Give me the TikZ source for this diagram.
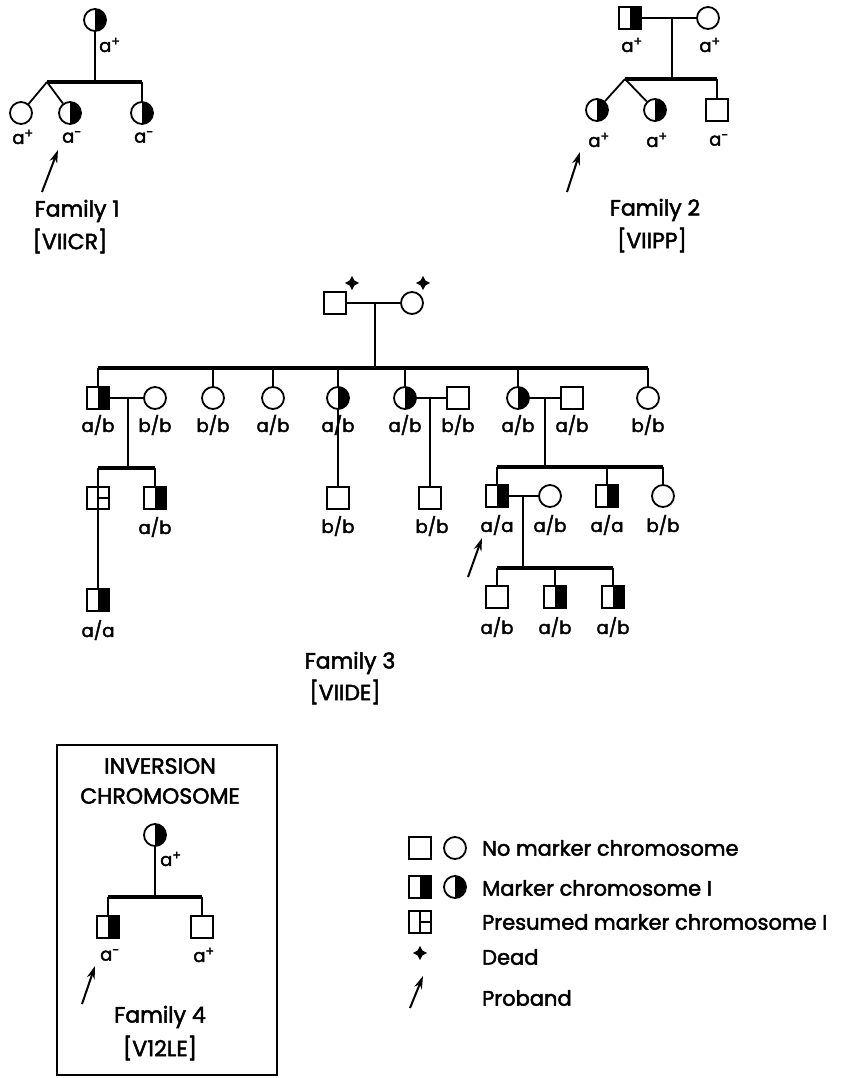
\documentclass[tikz,border=0pt]{standalone}
\usepackage{fontspec}
\setmainfont{Poppins}[FakeBold=2.2,UprightFeatures={FakeBold=2.2}]
\usepackage{tikz}
\usetikzlibrary{arrows.meta,positioning,shapes.geometric}
\newcommand{\pl}{\textsuperscript{+}}
\newcommand{\mi}{\textsuperscript{-}}

\begin{document}
\begin{tikzpicture}[x=1pt,y=-1pt,
  every node/.style={font=\fontsize{18}{21}\selectfont},
  male/.style={draw,rectangle,minimum size=22pt,inner sep=0pt,line width=1.8pt},
  female/.style={draw,circle,minimum size=22pt,inner sep=0pt,line width=1.8pt},
  half/.style={path picture={\fill (path picture bounding box.north) rectangle (path picture bounding box.south east);}},
  presumed/.style={male,path picture={
      \draw[line width=1.6pt] (path picture bounding box.north) -- (path picture bounding box.south);
      \draw[line width=1.6pt] (path picture bounding box.center) -- (path picture bounding box.east);}},
  dead/.style={star,star points=4,star point ratio=2,fill,inner sep=0pt,minimum size=14pt},
  lbl/.style={inner sep=0pt},
  title/.style={font=\fontsize{22}{26}\selectfont},
  keytext/.style={inner sep=0pt,anchor=west,font=\fontsize{21}{25}\selectfont},
  rel/.style={line width=1.8pt},
  sib/.style={line width=3.5pt},
  proband/.style={-{Stealth[length=13pt,width=8pt]},line width=2pt},
]
\useasboundingbox (0,0) rectangle (845,1078);

% ---------------- Family 1
\node[female,half] (f1m) at (95,20) {};
\node[lbl,anchor=west] (f1mL) at (99,45) {a\pl};
\coordinate (f1sl) at (47,82);
\coordinate (f1sm) at (95,82);
\coordinate (f1sr) at (142,82);
\node[female] (f1c1) at (21,113) {};
\node[female,half] (f1c2) at (70,113) {};
\node[female,half] (f1c3) at (142,113) {};
\node[lbl] (f1c1L) at (23,137) {a\pl};
\node[lbl] (f1c2L) at (72,137) {a\mi};
\node[lbl] (f1c3L) at (144,137) {a\mi};
\draw[rel] (f1m) -- (f1sm);
\draw[sib] (f1sl) -- (f1sr);
\draw[rel] (f1sl) -- (f1c1);
\draw[rel] (f1sl) -- (f1c2);
\draw[rel] (f1sr) -- (f1c3);
\coordinate (f1at) at (42,192);
\coordinate (f1ah) at (58,150);
\draw[proband] (f1at) -- (f1ah);
\node[title] (f1t) at (77,211) {Family 1};
\node[title] (f1id) at (70,241) {[VIICR]};

% ---------------- Family 2
\node[male,half] (f2f) at (630,18) {};
\node[female] (f2m) at (708,18) {};
\node[lbl] (f2fL) at (632,45) {a\pl};
\node[lbl] (f2mL) at (710,45) {a\pl};
\coordinate (f2mt) at (672,18);
\coordinate (f2sl) at (625,79);
\coordinate (f2sm) at (672,79);
\coordinate (f2sr) at (717,79);
\draw[rel] (f2f) -- (f2m);
\draw[rel] (f2mt) -- (f2sm);
\draw[sib] (f2sl) -- (f2sr);
\node[female,half] (f2c1) at (597,110) {};
\node[female,half] (f2c2) at (655,110) {};
\node[male] (f2c3) at (717,110) {};
\draw[rel] (f2sl) -- (f2c1);
\draw[rel] (f2sl) -- (f2c2);
\draw[rel] (f2sr) -- (f2c3);
\node[lbl] (f2c1L) at (599,140) {a\pl};
\node[lbl] (f2c2L) at (657,140) {a\pl};
\node[lbl] (f2c3L) at (719,140) {a\mi};
\coordinate (f2at) at (567,192);
\coordinate (f2ah) at (580,152);
\draw[proband] (f2at) -- (f2ah);
\node[title] (f2t) at (655,210) {Family 2};
\node[title] (f2id) at (652,240) {[VIIPP]};

% ---------------- Family 3
\node[male] (f3f) at (335,303) {};
\node[female] (f3m) at (412,303) {};
\node[dead] (f3fd) at (352,283) {};
\node[dead] (f3md) at (423,283) {};
\coordinate (f3mt) at (375,303);
\coordinate (f3sm) at (375,368);
\coordinate (f3sl) at (98,368);
\coordinate (f3sr) at (648,368);
\draw[rel] (f3f) -- (f3m);
\draw[rel] (f3mt) -- (f3sm);
\draw[sib] (f3sl) -- (f3sr);
% generation II
\node[male,half] (g2a) at (98,398) {};
\node[female] (g2aw) at (155,398) {};
\node[female] (g2b) at (213,398) {};
\node[female] (g2c) at (273,398) {};
\node[female,half] (g2d) at (338,398) {};
\node[female,half] (g2e) at (405,398) {};
\node[male] (g2eh) at (458,398) {};
\node[female,half] (g2f) at (518,398) {};
\node[male] (g2fh) at (572,398) {};
\node[female] (g2g) at (648,398) {};
\foreach \n in {g2a,g2b,g2c,g2d,g2e,g2f,g2g}
  \draw[rel] (\n |- f3sl) -- (\n.north);
\node[lbl] (g2aL) at (98,425) {a/b};
\node[lbl] (g2awL) at (155,425) {b/b};
\node[lbl] (g2bL) at (213,425) {b/b};
\node[lbl] (g2cL) at (273,425) {a/b};
\node[lbl] (g2dL) at (338,425) {a/b};
\node[lbl] (g2eL) at (405,425) {a/b};
\node[lbl] (g2ehL) at (458,425) {b/b};
\node[lbl] (g2fL) at (518,425) {a/b};
\node[lbl] (g2fhL) at (572,425) {a/b};
\node[lbl] (g2gL) at (648,425) {b/b};
\draw[rel] (g2a) -- (g2aw);
\draw[rel] (g2e) -- (g2eh);
\draw[rel] (g2f) -- (g2fh);
% generation III, left
\coordinate (g2amt) at (128,398);
\coordinate (g3sl) at (98,468);
\coordinate (g3sm) at (128,468);
\coordinate (g3sr) at (155,468);
\draw[rel] (g2amt) -- (g3sm);
\draw[sib] (g3sl) -- (g3sr);
\node[presumed] (g3a) at (98,498) {};
\node[male,half] (g3b) at (155,498) {};
\node[lbl] (g3bL) at (155,527) {a/b};
\draw[rel] (g3sl) -- (g3a);
\draw[rel] (g3sr) -- (g3b);
\node[male,half] (g4a) at (98,600) {};
\node[lbl] (g4aL) at (98,630) {a/a};
\draw[rel] (g3a) -- (g4a);
% generation III, middle
\node[male] (g3c) at (338,498) {};
\node[lbl] (g3cL) at (338,526) {b/b};
\draw[rel] (g2d) -- (g3c);
\coordinate (g2emt) at (430,398);
\node[male] (g3d) at (430,498) {};
\node[lbl] (g3dL) at (432,526) {b/b};
\draw[rel] (g2emt) -- (g3d);
% generation III, right
\coordinate (g2fmt) at (545,398);
\coordinate (g3tl) at (497,467);
\coordinate (g3tm) at (545,467);
\coordinate (g3tr) at (663,467);
\draw[rel] (g2fmt) -- (g3tm);
\draw[sib] (g3tl) -- (g3tr);
\node[male,half] (g3e) at (497,496) {};
\node[female] (g3ew) at (550,496) {};
\node[male,half] (g3f) at (607,496) {};
\node[female] (g3g) at (663,496) {};
\foreach \n in {g3e,g3f,g3g}
  \draw[rel] (\n |- g3tl) -- (\n.north);
\node[lbl] (g3eL) at (497,525) {a/a};
\node[lbl] (g3ewL) at (550,525) {a/b};
\node[lbl] (g3fL) at (607,525) {a/a};
\node[lbl] (g3gL) at (663,525) {b/b};
\draw[rel] (g3e) -- (g3ew);
% generation IV, right
\coordinate (g3emt) at (523,496);
\coordinate (g4sl) at (497,568);
\coordinate (g4sm) at (523,568);
\coordinate (g4sr) at (613,568);
\draw[rel] (g3emt) -- (g4sm);
\draw[sib] (g4sl) -- (g4sr);
\node[male] (g4b) at (497,597) {};
\node[male,half] (g4c) at (555,597) {};
\node[male,half] (g4d) at (613,597) {};
\foreach \n in {g4b,g4c,g4d}
  \draw[rel] (\n |- g4sl) -- (\n.north);
\node[lbl] (g4bL) at (497,627) {a/b};
\node[lbl] (g4cL) at (555,627) {a/b};
\node[lbl] (g4dL) at (613,627) {a/b};
\coordinate (f3at) at (468,577);
\coordinate (f3ah) at (482,538);
\draw[proband] (f3at) -- (f3ah);
\node[title] (f3t) at (350,663) {Family 3};
\node[title] (f3id) at (345,692) {[VIIDE]};

% ---------------- Family 4
\draw[line width=2.8pt] (57,745) rectangle (277,1075);
\node[title] (f4h1) at (160,766) {INVERSION};
\node[title] (f4h2) at (160,796) {CHROMOSOME};
\node[female,half] (f4m) at (155,835) {};
\node[lbl,anchor=west] (f4mL) at (160,859) {a\pl};
\coordinate (f4sl) at (108,897);
\coordinate (f4sm) at (155,897);
\coordinate (f4sr) at (202,897);
\draw[rel] (f4m) -- (f4sm);
\draw[sib] (f4sl) -- (f4sr);
\node[male,half] (f4c1) at (108,927) {};
\node[male] (f4c2) at (202,927) {};
\draw[rel] (f4sl) -- (f4c1);
\draw[rel] (f4sr) -- (f4c2);
\node[lbl] (f4c1L) at (110,955) {a\mi};
\node[lbl] (f4c2L) at (204,955) {a\pl};
\coordinate (f4at) at (82,1004);
\coordinate (f4ah) at (95,966);
\draw[proband] (f4at) -- (f4ah);
\node[title] (f4t) at (160,1017) {Family 4};
\node[title] (f4id) at (160,1048) {[V12LE]};

% ---------------- key
\node[male] (k1s) at (420,848) {};
\node[female] (k1c) at (455,848) {};
\node[male,half] (k2s) at (420,887) {};
\node[female,half] (k2c) at (455,887) {};
\node[presumed] (k3s) at (420,922) {};
\node[dead] (k4) at (420,953) {};
\coordinate (k5t) at (410,1008);
\coordinate (k5h) at (423,976);
\draw[proband] (k5t) -- (k5h);
\node[keytext] (k1t) at (482,848) {No marker chromosome};
\node[keytext] (k2t) at (482,888) {Marker chromosome I};
\node[keytext] (k3t) at (482,922) {Presumed marker chromosome I};
\node[keytext] (k4t) at (482,957) {Dead};
\node[keytext] (k5t') at (482,998) {Proband};
\end{tikzpicture}
\end{document}
